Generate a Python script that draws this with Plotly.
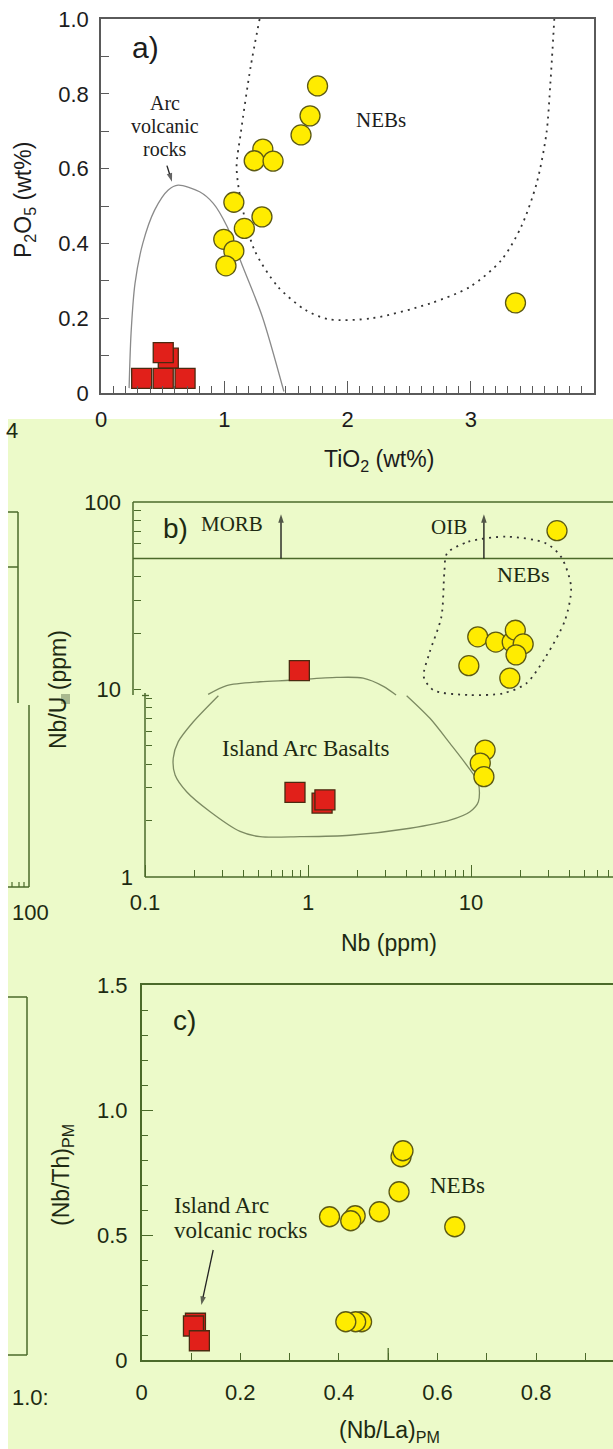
import math
import plotly.graph_objects as go

W, H = 613, 1449
def PX(p): return p / W
def PY(p): return 1 - p / H

# ---------------- data: panel a (TiO2 vs P2O5) ----------------
a_neb_tio2 = [1.757, 1.696, 1.623, 1.313, 1.243, 1.396, 1.078, 1.306, 1.163, 0.996, 1.078, 1.014, 3.363]
a_neb_p2o5 = [0.821, 0.741, 0.690, 0.652, 0.621, 0.620, 0.510, 0.471, 0.440, 0.411, 0.380, 0.340, 0.241]
a_arc_tio2 = [0.546, 0.330, 0.505, 0.682, 0.505]
a_arc_p2o5 = [0.093, 0.039, 0.039, 0.039, 0.108]
a_arcfield_tio2 = [0.228, 0.244, 0.276, 0.339, 0.435, 0.546, 0.626, 0.80, 0.911, 1.023, 1.15, 1.309, 1.484]
a_arcfield_p2o5 = [0.013, 0.160, 0.293, 0.400, 0.489, 0.543, 0.556, 0.538, 0.507, 0.445, 0.338, 0.204, 0.004]
a_nebfield_tio2 = [1.287, 1.214, 1.134, 1.10, 1.134, 1.245, 1.436, 1.659, 1.85, 2.2, 2.675, 2.995, 3.25, 3.41, 3.535, 3.614, 3.646, 3.678]
a_nebfield_p2o5 = [1.0, 0.872, 0.695, 0.605, 0.516, 0.382, 0.284, 0.222, 0.197, 0.2, 0.24, 0.284, 0.356, 0.445, 0.561, 0.694, 0.828, 1.0]
a_arrow_tio2 = [0.535, 0.576]
a_arrow_p2o5 = [0.608, 0.565]
a_xticks = [0, 1, 2, 3]
a_yticks = [0, 0.2, 0.4, 0.6, 0.8, 1.0]
a_yticktext = ["0", "0.2", "0.4", "0.6", "0.8", "1.0"]

# ---------------- data: panel b (Nb vs Nb/U) ----------------
b_neb_nb = [33.7, 11.0, 14.2, 17.9, 18.7, 20.9, 18.9, 9.7, 17.3, 12.2, 11.4, 12.0]
b_neb_nbu = [70.3, 19.1, 17.9, 17.9, 20.7, 17.5, 15.3, 13.4, 11.5, 4.75, 4.05, 3.43]
b_arc_nb = [0.885, 1.22, 0.832, 1.27]
b_arc_nbu = [12.6, 2.48, 2.83, 2.58]
b_iab_top_nb = [0.244, 0.317, 0.508, 0.776, 1.50, 2.18, 2.90, 3.47]
b_iab_top_nbu = [9.42, 10.5, 11.0, 11.2, 11.6, 11.5, 10.4, 9.35]
b_iab_low_nb = [4.03, 5.60, 7.43, 9.41, 11.1, 11.1, 9.86, 7.43, 4.23, 1.81, 0.893, 0.508, 0.383, 0.251, 0.180, 0.153, 0.149, 0.160, 0.198, 0.282]
b_iab_low_nbu = [9.27, 7.02, 5.16, 3.95, 3.16, 2.52, 2.23, 2.01, 1.82, 1.67, 1.64, 1.64, 1.75, 2.23, 2.85, 3.50, 4.30, 5.27, 6.73, 9.27]
b_nebfield_nb = [7.13, 9.64, 16.6, 28.8, 35.7, 41.1, 37.8, 28.8, 21.9, 15.8, 9.64, 5.88, 5.13, 5.55, 6.58, 6.86, 7.13]
b_nebfield_nbu = [53.2, 61.4, 65.3, 60.2, 51.0, 35.3, 23.5, 15.0, 10.8, 9.55, 9.35, 9.93, 11.7, 15.6, 24.4, 41.7, 53.2]
b_limit_nbu = 50
b_arrow_top_nbu = 86
b_morb_nb, b_oib_nb = 0.683, 12.0
b_xticks = [0.1, 1, 10]
b_xticktext = ["0.1", "1", "10"]

# ---------------- data: panel c ((Nb/La)PM vs (Nb/Th)PM) ----------------
c_neb_nbla = [0.381, 0.433, 0.424, 0.482, 0.522, 0.526, 0.530, 0.635, 0.446, 0.434, 0.414]
c_neb_nbth = [0.573, 0.577, 0.557, 0.593, 0.673, 0.813, 0.837, 0.533, 0.153, 0.153, 0.153]
c_arc_nbla = [0.109, 0.105, 0.117]
c_arc_nbth = [0.147, 0.136, 0.077]
c_arrow_nbla = [0.145, 0.121]
c_arrow_nbth = [0.44, 0.22]
c_xticks = [0, 0.2, 0.4, 0.6, 0.8]
c_yticks = [0, 0.5, 1.0, 1.5]
c_yticktext = ["0", "0.5", "1.0", "1.5"]

# ---------------- styles ----------------
GREEN_BG = "rgb(236,250,201)"
OLIVE = "#4b6a2a"
GRAY = "#5a5a5a"
TXT_A = "#1c1c1c"
TXT_G = "#1d2a12"
YEL = "#FFEC00"
YEL_EDGE = "#5d5a14"
RED = "#E1201A"
RED_EDGE = "#4b2a10"
SANS = "Liberation Sans, Arial, sans-serif"
SERIF = "Liberation Serif, Times New Roman, serif"
TICKF = 22
MS = 20

fig = go.Figure()

def circles(x, y, xa, ya):
    fig.add_trace(go.Scatter(x=x, y=y, xaxis=xa, yaxis=ya, mode="markers", showlegend=False,
                             marker=dict(symbol="circle", size=MS, color=YEL, line=dict(color=YEL_EDGE, width=1.3))))

def squares(x, y, xa, ya):
    fig.add_trace(go.Scatter(x=x, y=y, xaxis=xa, yaxis=ya, mode="markers", showlegend=False,
                             marker=dict(symbol="square", size=MS, color=RED, line=dict(color=RED_EDGE, width=1.3))))

def curve(x, y, xa, ya, color, width, dash, shape="spline"):
    fig.add_trace(go.Scatter(x=x, y=y, xaxis=xa, yaxis=ya, mode="lines", showlegend=False,
                             line=dict(color=color, width=width, dash=dash, shape=shape, smoothing=0.8)))

def arrow(x, y, xa, ya, color):
    fig.add_trace(go.Scatter(x=x, y=y, xaxis=xa, yaxis=ya, mode="lines+markers", showlegend=False,
                             line=dict(color=color, width=1.3),
                             marker=dict(symbol="arrow", size=[0, 9], angleref="previous", color=color,
                                         line=dict(width=0))))

# panel a
curve(a_arcfield_tio2, a_arcfield_p2o5, "x", "y", "#8a8a8a", 1.3, "solid")
curve(a_nebfield_tio2, a_nebfield_p2o5, "x", "y", "#333333", 1.8, "2px,5px")
arrow(a_arrow_tio2, a_arrow_p2o5, "x", "y", "#222222")
squares(a_arc_tio2, a_arc_p2o5, "x", "y")
circles(a_neb_tio2, a_neb_p2o5, "x", "y")

# panel b
xr_b = [-1 - 12 / 163, -1 + (613 - 145) / 163]
curve([10 ** xr_b[0], 10 ** xr_b[1]], [b_limit_nbu, b_limit_nbu], "x2", "y2", OLIVE, 1.5, "solid", "linear")
arrow([b_morb_nb, b_morb_nb], [b_limit_nbu, b_arrow_top_nbu], "x2", "y2", "#111111")
arrow([b_oib_nb, b_oib_nb], [b_limit_nbu, b_arrow_top_nbu], "x2", "y2", "#111111")
curve(b_iab_top_nb, b_iab_top_nbu, "x2", "y2", "#7c8a62", 1.3, "solid")
curve(b_iab_low_nb, b_iab_low_nbu, "x2", "y2", "#7c8a62", 1.3, "solid")
curve(b_nebfield_nb, b_nebfield_nbu, "x2", "y2", "#333333", 1.8, "2px,5px")
squares(b_arc_nb, b_arc_nbu, "x2", "y2")
circles(b_neb_nb, b_neb_nbu, "x2", "y2")
# carriers for the two tick columns of panel b's y axis
fig.add_trace(go.Scatter(x=[None], y=[None], xaxis="x2", yaxis="y4", showlegend=False))
fig.add_trace(go.Scatter(x=[None], y=[None], xaxis="x2", yaxis="y5", showlegend=False))

# panel c
arrow(c_arrow_nbla, c_arrow_nbth, "x3", "y3", "#222222")
squares(c_arc_nbla, c_arc_nbth, "x3", "y3")
circles(c_neb_nbla, c_neb_nbth, "x3", "y3")

# ---------------- axes ----------------
def ax_common(color, txt):
    return dict(showgrid=False, zeroline=False, linecolor=color, linewidth=1.5, tickcolor=color,
                ticks="inside", tickwidth=1.3, automargin=False,
                tickfont=dict(family=SANS, size=TICKF, color=txt))

fig.update_layout(
    xaxis=dict(**ax_common(GRAY, TXT_A), domain=[PX(101), PX(594)], range=[0, 4], anchor="y", showline=True,
               mirror=True, tickvals=a_xticks, ticklen=12, ticklabelstandoff=6,
               minor=dict(dtick=0.1, tick0=0, ticks="inside", ticklen=7, tickcolor=GRAY, tickwidth=1.2)),
    yaxis=dict(**ax_common(GRAY, TXT_A), domain=[PY(393), PY(19)], range=[0, 1], anchor="x", showline=True,
               mirror=True, tickvals=a_yticks, ticktext=a_yticktext, ticklen=8, ticklabelstandoff=6,
               minor=dict(dtick=0.1, tick0=0, ticks="inside", ticklen=8, tickcolor=GRAY, tickwidth=1.2)),
    xaxis2=dict(**ax_common(OLIVE, TXT_G), domain=[PX(133), 1], type="log", range=xr_b, anchor="y2",
                showline=False, tickvals=b_xticks, ticktext=b_xticktext, ticklen=12, ticklabelstandoff=10,
                minor=dict(tickmode="array", tickvals=[0.2, 0.3, 0.4, 0.5, 0.6, 0.7, 0.8, 0.9, 2, 3, 4, 5, 6, 7, 8, 9,
                                                       20, 30, 40, 50, 60, 70, 80, 90],
                           ticks="inside", ticklen=7, tickcolor=OLIVE, tickwidth=1.2)),
    yaxis2=dict(domain=[PY(877), PY(502)], type="log", range=[0, 2], anchor="x2", visible=False, automargin=False),
    yaxis4=dict(**ax_common(OLIVE, TXT_G), overlaying="y2", anchor="free", position=PX(145), type="log",
                range=[0, 2], showline=False, tickvals=[1], ticktext=["1"], ticklen=6, ticklabelstandoff=12,
                minor=dict(tickmode="array", tickvals=[2, 3, 4, 5, 6, 7, 8, 9], ticks="inside", ticklen=6,
                           tickcolor=OLIVE, tickwidth=1.2)),
    yaxis5=dict(**ax_common(OLIVE, TXT_G), overlaying="y2", anchor="free", position=PX(133), type="log",
                range=[0, 2], showline=False, tickvals=[10, 100], ticktext=["10", "100"], ticklen=7,
                ticklabelstandoff=12,
                minor=dict(tickmode="array", tickvals=[20, 30, 40, 50, 60, 70, 80, 90], ticks="inside", ticklen=7,
                           tickcolor=OLIVE, tickwidth=1.2)),
    xaxis3=dict(**ax_common(OLIVE, TXT_G), domain=[PX(141.7), 1], range=[0, (613 - 141.7) / 493], anchor="y3",
                showline=True, mirror=True, tickvals=c_xticks, ticktext=["0", "0.2", "0.4", "0.6", "0.8"],
                ticklen=7, ticklabelstandoff=12,
                minor=dict(dtick=0.1, tick0=0, ticks="inside", ticklen=7, tickcolor=OLIVE, tickwidth=1.2)),
    yaxis3=dict(**ax_common(OLIVE, TXT_G), domain=[PY(1360), PY(985)], range=[0, 1.5], anchor="x3",
                showline=True, mirror=False, tickvals=c_yticks, ticktext=c_yticktext, ticklen=12,
                ticklabelstandoff=8,
                minor=dict(dtick=0.1, tick0=0, ticks="inside", ticklen=7, tickcolor=OLIVE, tickwidth=1.2)),
)

# ---------------- frame pieces / background ----------------
def seg(x0, y0, x1, y1, color=OLIVE, w=1.5):
    return dict(type="line", xref="paper", yref="paper", x0=PX(x0), x1=PX(x1), y0=PY(y0), y1=PY(y1),
                line=dict(color=color, width=w))

shapes = [
    dict(type="rect", xref="paper", yref="paper", x0=PX(8), x1=1, y0=0, y1=PY(419),
         fillcolor=GREEN_BG, line=dict(width=0), layer="below"),
    # panel b frame pieces
    seg(133, 502, 613, 502), seg(133, 502, 133, 695), seg(145, 693, 145, 877), seg(145, 877, 613, 877),
    seg(142, 695.5, 149, 695.5, w=1.3),
    # tall tick at 0.5 on panel c x axis
    dict(type="line", xref="x3", yref="paper", x0=0.5, x1=0.5, y0=PY(1360), y1=PY(1348),
         line=dict(color=OLIVE, width=1.3)),
    # small patch next to the Nb/U title
    dict(type="rect", xref="paper", yref="paper", x0=PX(61), x1=PX(70), y0=PY(704), y1=PY(694),
         fillcolor="#a9b98f", line=dict(width=0)),
    # fragments of the neighbouring figure on the left edge
    seg(18, 512, 18, 703), seg(8, 512, 18, 512), seg(8, 567, 18, 567),
    seg(29, 705, 29, 887), seg(8, 887, 29, 887),
    seg(27, 997, 27, 1355), seg(8, 997, 27, 997), seg(8, 1355, 27, 1355),
]
for tx in (12, 19, 24):
    shapes.append(seg(tx, 887, tx, 882, w=1.2))
fig.update_layout(shapes=shapes)

# ---------------- text ----------------
ann = []
def ptext(x, y, text, size, family=SANS, color=TXT_A, angle=0, xanchor="center"):
    ann.append(dict(xref="paper", yref="paper", x=PX(x), y=PY(y), text=text, showarrow=False,
                    xanchor=xanchor, yanchor="middle", textangle=angle,
                    font=dict(family=family, size=size, color=color)))

def dtext(xa, ya, x, y, text, size, family=SERIF, color=TXT_A, xanchor="center"):
    ann.append(dict(xref=xa, yref=ya, x=x, y=y, text=text, showarrow=False, xanchor=xanchor, yanchor="middle",
                    font=dict(family=family, size=size, color=color)))

# panel a
ptext(145, 48, "a)", 30)
dtext("x", "y", 0.519, 0.776, "Arc", 20)
dtext("x", "y", 0.519, 0.714, "volcanic", 20)
dtext("x", "y", 0.519, 0.653, "rocks", 20)
dtext("x", "y", 2.27, 0.73, "NEBs", 21)
ptext(24, 200, "P<sub>2</sub>O<sub>5</sub> (wt%)", 23, angle=-90)
ptext(379, 460, "TiO<sub>2</sub> (wt%)", 23)

# panel b (annotation positions on log axes are given in log10 units)
ptext(176, 528, "b)", 28, color=TXT_G)
dtext("x2", "y2", math.log10(0.342), math.log10(76), "MORB", 21, color=TXT_G)
dtext("x2", "y2", math.log10(7.33), math.log10(73.6), "OIB", 21, color=TXT_G)
dtext("x2", "y2", 1.319, 1.611, "NEBs", 22, color=TXT_G)
dtext("x2", "y2", -0.018, 0.688, "Island Arc Basalts", 23, color=TXT_G)
ptext(58, 690, "Nb/U (ppm)", 23, color=TXT_G, angle=-90)
ptext(389, 943, "Nb (ppm)", 23, color=TXT_G)

# panel c
ptext(184, 1020, "c)", 28, color=TXT_G)
dtext("x3", "y3", 0.640, 0.70, "NEBs", 23, color=TXT_G)
dtext("x3", "y3", 0.061, 0.62, "Island Arc", 23, color=TXT_G, xanchor="left")
dtext("x3", "y3", 0.061, 0.52, "volcanic rocks", 23, color=TXT_G, xanchor="left")
ptext(62, 1175, "(Nb/Th)<sub>PM</sub>", 23, color=TXT_G, angle=-90)
ptext(389, 1431, "(Nb/La)<sub>PM</sub>", 23, color=TXT_G)

# fragments of the neighbouring figure
ptext(12, 430, "4", 22, color=TXT_G)
ptext(30, 912, "100", 22, color=TXT_G)
ptext(30, 1397, "1.0:", 22, color=TXT_G)

fig.update_layout(annotations=ann)

fig.update_layout(width=W, height=H, autosize=False,
                  margin=dict(l=0, r=0, t=0, b=0, pad=0, autoexpand=False),
                  paper_bgcolor="white", plot_bgcolor="rgba(0,0,0,0)", showlegend=False,
                  font=dict(family=SANS, color=TXT_A))

fig.write_html("out.html", config={"displayModeBar": False},
               post_script="document.body.style.margin='0';document.body.style.overflow='hidden';")
